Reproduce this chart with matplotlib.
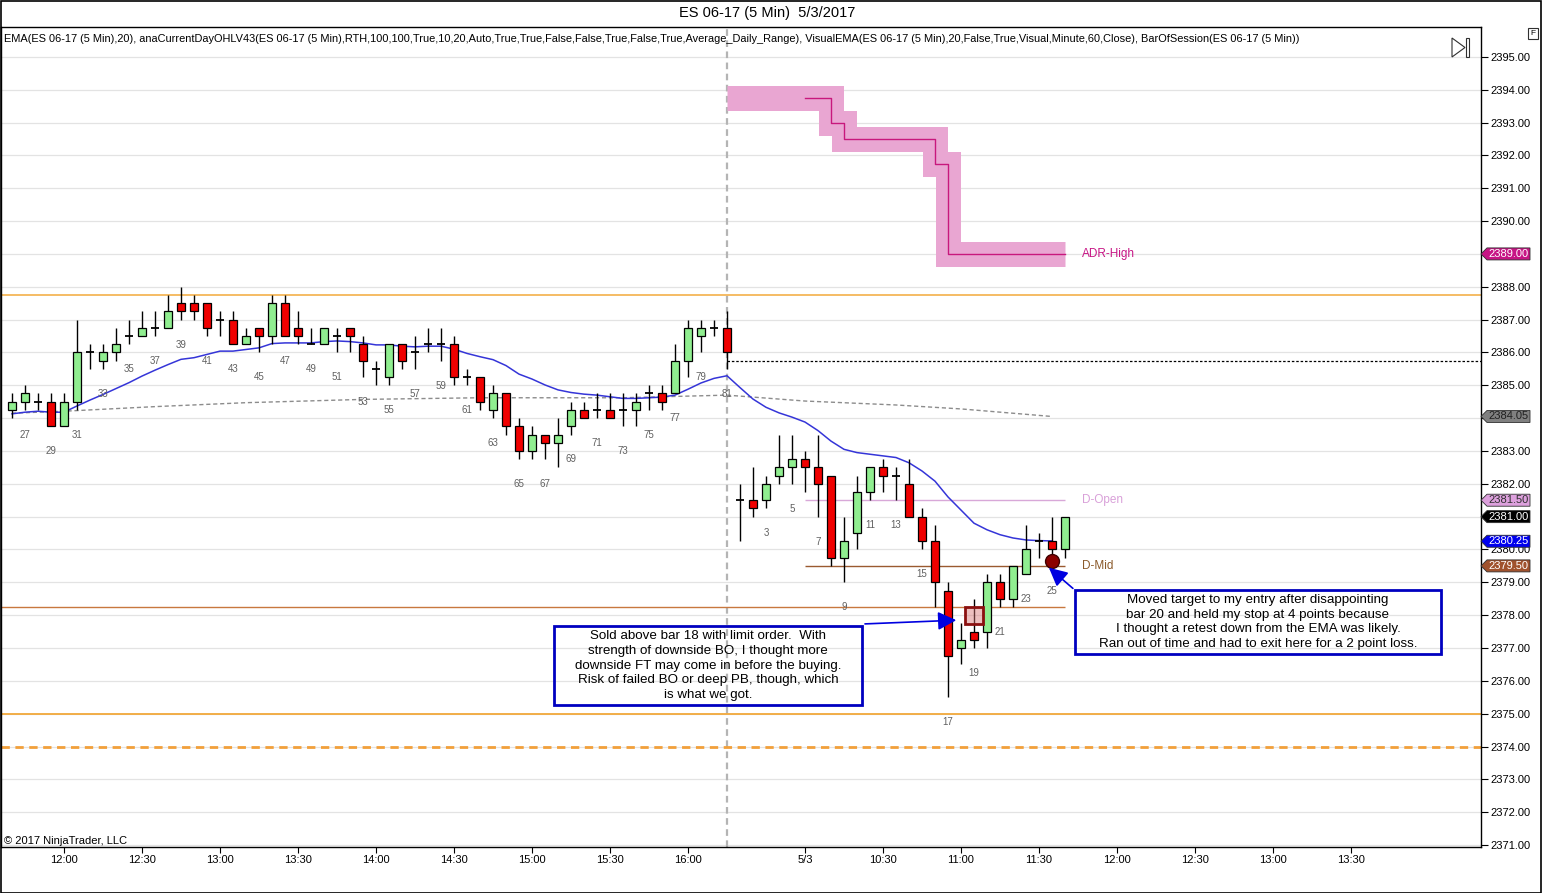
import matplotlib
matplotlib.use("Agg")
import matplotlib.pyplot as plt
from matplotlib.patches import Rectangle, Polygon

plt.rcParams['font.family'] = ['Liberation Sans', 'DejaVu Sans']

# previous session, bars 26..81 (11:40 - 16:15)
prev_bars = list(range(26, 82))
prev_open = [2384.25, 2384.5, 2384.5, 2384.5, 2383.75, 2384.5, 2386.0, 2385.75, 2386.0, 2386.5,
             2386.5, 2386.75, 2386.75, 2387.5, 2387.5, 2387.5, 2387.0, 2387.0, 2386.25, 2386.75,
             2386.5, 2387.5, 2386.75, 2386.25, 2386.25, 2386.5, 2386.75, 2386.25, 2385.5, 2385.25,
             2386.25, 2386.0, 2386.25, 2386.25, 2386.25, 2385.25, 2385.25, 2384.25, 2384.75, 2383.75,
             2383.0, 2383.5, 2383.25, 2383.75, 2384.25, 2384.25, 2384.25, 2384.25, 2384.25, 2384.75,
             2384.75, 2384.75, 2385.75, 2386.5, 2386.75, 2386.75]
prev_high = [2384.75, 2385.0, 2384.75, 2384.75, 2384.75, 2387.0, 2386.25, 2386.25, 2386.75, 2387.0,
             2387.25, 2387.25, 2387.75, 2388.0, 2387.75, 2387.5, 2387.25, 2387.25, 2386.75, 2386.75,
             2387.75, 2387.75, 2387.25, 2386.75, 2386.75, 2386.75, 2386.75, 2386.5, 2385.75, 2386.25,
             2386.25, 2386.5, 2386.75, 2386.75, 2386.5, 2385.5, 2385.25, 2385.0, 2384.75, 2384.0,
             2383.75, 2383.5, 2384.0, 2384.5, 2384.5, 2384.75, 2384.75, 2384.75, 2384.75, 2385.0,
             2385.0, 2386.25, 2387.0, 2387.0, 2387.0, 2387.25]
prev_low = [2384.0, 2384.25, 2384.25, 2383.75, 2383.75, 2384.25, 2385.5, 2385.5, 2385.75, 2386.25,
            2386.5, 2386.5, 2386.75, 2387.0, 2387.0, 2386.5, 2386.5, 2386.25, 2386.25, 2386.0,
            2386.25, 2386.5, 2386.25, 2386.25, 2386.25, 2386.0, 2386.0, 2385.25, 2385.0, 2385.0,
            2385.5, 2385.5, 2386.0, 2385.75, 2385.0, 2385.0, 2384.25, 2384.0, 2383.5, 2382.75,
            2382.75, 2382.75, 2382.5, 2383.5, 2384.0, 2384.0, 2384.0, 2383.75, 2383.75, 2384.25,
            2384.25, 2384.75, 2385.25, 2386.0, 2386.5, 2385.5]
prev_close = [2384.5, 2384.75, 2384.5, 2383.75, 2384.5, 2386.0, 2386.0, 2386.0, 2386.25, 2386.5,
              2386.75, 2386.75, 2387.25, 2387.25, 2387.25, 2386.75, 2387.0, 2386.25, 2386.5, 2386.5,
              2387.5, 2386.5, 2386.5, 2386.25, 2386.75, 2386.5, 2386.5, 2385.75, 2385.5, 2386.25,
              2385.75, 2386.0, 2386.25, 2386.25, 2385.25, 2385.25, 2384.5, 2384.75, 2383.75, 2383.0,
              2383.5, 2383.25, 2383.5, 2384.25, 2384.0, 2384.25, 2384.0, 2384.25, 2384.5, 2384.75,
              2384.5, 2385.75, 2386.75, 2386.75, 2386.75, 2386.0]
prev_ema = [2384.13, 2384.18, 2384.21, 2384.18, 2384.18, 2384.37, 2384.55, 2384.72, 2384.9, 2385.08,
            2385.28, 2385.46, 2385.63, 2385.79, 2385.84, 2385.94, 2386.04, 2386.04, 2386.09, 2386.14,
            2386.27, 2386.29, 2386.29, 2386.29, 2386.33, 2386.35, 2386.33, 2386.29, 2386.23, 2386.23,
            2386.19, 2386.17, 2386.19, 2386.19, 2386.1, 2385.97, 2385.87, 2385.78, 2385.6, 2385.34,
            2385.19, 2385.01, 2384.86, 2384.78, 2384.73, 2384.7, 2384.65, 2384.6, 2384.6, 2384.62,
            2384.64, 2384.7, 2384.88, 2385.07, 2385.21, 2385.29]

# 5/3 session, bars 1..26 (9:35 - 11:40)
new_bars = list(range(1, 27))
new_open = [2381.5, 2381.5, 2381.5, 2382.25, 2382.5, 2382.75, 2382.5, 2382.25, 2379.75, 2380.5,
            2381.75, 2382.5, 2382.25, 2382.0, 2381.0, 2380.25, 2378.75, 2377.0, 2377.5, 2377.5,
            2379.0, 2378.5, 2379.25, 2380.25, 2380.25, 2380.0]
new_high = [2382.0, 2382.5, 2382.25, 2383.5, 2383.5, 2383.0, 2383.5, 2382.25, 2381.0, 2382.25,
            2382.5, 2382.75, 2382.5, 2382.75, 2381.25, 2380.75, 2379.0, 2377.75, 2378.5, 2379.25,
            2379.25, 2379.5, 2380.75, 2380.5, 2381.0, 2381.0]
new_low = [2380.25, 2381.0, 2381.25, 2382.0, 2382.0, 2381.75, 2381.0, 2379.5, 2379.0, 2380.0,
           2381.5, 2381.75, 2381.5, 2381.0, 2380.0, 2378.25, 2375.5, 2376.5, 2377.0, 2377.0,
           2378.25, 2378.25, 2379.25, 2379.75, 2379.75, 2379.75]
new_close = [2381.5, 2381.25, 2382.0, 2382.5, 2382.75, 2382.5, 2382.0, 2379.75, 2380.25, 2381.75,
             2382.5, 2382.25, 2382.25, 2381.0, 2380.25, 2379.0, 2376.75, 2377.25, 2377.25, 2379.0,
             2378.5, 2379.5, 2380.0, 2380.25, 2380.0, 2381.0]
new_ema = [2384.93, 2384.58, 2384.33, 2384.16, 2384.03, 2383.88, 2383.62, 2383.3, 2383.05, 2382.95,
           2382.9, 2382.85, 2382.8, 2382.64, 2382.39, 2382.08, 2381.6, 2381.2, 2380.8, 2380.6,
           2380.45, 2380.35, 2380.29, 2380.27, 2380.26]

# slow (60 min) EMA, read at a few bars
slow_prev_bars = [26, 30, 37, 44, 53, 62, 73, 77, 81]
slow_prev_vals = [2384.15, 2384.21, 2384.35, 2384.47, 2384.57, 2384.62, 2384.62, 2384.66, 2384.7]
slow_new_bars = [1, 6, 13, 18, 25]
slow_new_vals = [2384.67, 2384.52, 2384.4, 2384.28, 2384.05]

# ADR high for the 5/3 session
adr_bars = list(range(6, 27))
adr_vals = [2393.75, 2393.75, 2393.75, 2393.0] + [2392.5] * 7 + [2391.75] + [2389.0] * 9

# levels
y_high = 2387.75
prior_close_line = 2385.75
d_open = 2381.5
d_mid = 2379.5
level_a = 2378.25
level_b = 2375.0
level_c = 2374.0
entry_bar, entry_price = 19, 2378.0
exit_bar, exit_price = 25, 2379.65

tick_prev = [30, 36, 42, 48, 54, 60, 66, 72, 78]
tick_new = [6, 12, 18, 24, 30, 36, 42, 48]
tick_labels = ['12:00', '12:30', '13:00', '13:30', '14:00', '14:30', '15:00', '15:30', '16:00',
               '5/3', '10:30', '11:00', '11:30', '12:00', '12:30', '13:00', '13:30']

tags = [(2389.00, '#C71585', 'white'), (2384.05, '#808080', '#202020'),
        (2381.50, '#DDA0DD', '#303030'), (2381.00, 'black', 'white'),
        (2380.25, '#0000EE', 'white'), (2379.50, '#A0522D', 'white')]


def xp(bar):      # previous session position
    return bar - 26


def xn(bar):      # 5/3 session position
    return 55 + bar


W, H = 1542, 893
fig = plt.figure(figsize=(W / 100, H / 100), dpi=100)
ax = fig.add_axes([1 / W, (H - 847) / H, 1480 / W, 820 / H])
xmin, xmax = -0.846, 113.0
ax.set_xlim(xmin, xmax)
ax.set_ylim(2370.94, 2395.91)

for yv in range(2371, 2396):
    ax.axhline(yv, color='#E3E3E3', lw=0.9, zorder=0)

ax.axvline(xp(81), color='#B4B4B4', lw=1.6, ls=(0, (3, 2)), zorder=1)

# horizontal levels
ax.axhline(y_high, color='#F2A93B', lw=1.1, zorder=1)
ax.axhline(level_b, color='#F2A93B', lw=1.3, zorder=1)
ax.axhline(level_c, color='#F2A03A', lw=2.0, ls=(0, (3, 2)), zorder=1)
ax.hlines(level_a, xmin, xn(26), color='#C8783F', lw=1.0, zorder=1)
ax.hlines(prior_close_line, xp(81), xmax, color='black', lw=0.9, ls=(0, (2, 1.5)), zorder=1)
ax.hlines(d_open, xn(6), xn(26), color='#D8A8D8', lw=1.0, zorder=1)
ax.hlines(d_mid, xn(6), xn(26), color='#9A5A30', lw=1.0, zorder=1)
ax.text(xn(26) + 1.3, 2389.0, 'ADR-High', color='#C71585', fontsize=8.5, va='center')
ax.text(xn(26) + 1.3, d_open, 'D-Open', color='#D9A0D9', fontsize=8.5, va='center')
ax.text(xn(26) + 1.3, d_mid, 'D-Mid', color='#8B5A2B', fontsize=8.5, va='center')

# ADR band + line
band_x = [xn(0)] + [xn(b) for b in adr_bars]
band_y = [adr_vals[0]] + adr_vals
ax.plot(band_x, band_y, drawstyle='steps-pre', color='#E9A6D2', lw=18,
        solid_joinstyle='miter', solid_capstyle='butt', zorder=1)
ax.plot([xn(b) for b in adr_bars], adr_vals, drawstyle='steps-pre', color='#C8187D', lw=1.0, zorder=2)

# slow EMA
slow_x = [xp(b) for b in slow_prev_bars] + [xn(b) for b in slow_new_bars]
ax.plot(slow_x, slow_prev_vals + slow_new_vals, color='#8C8C8C', lw=1.0, ls=(0, (3, 2)), zorder=2)

# EMA 20
ema_x = [xp(b) for b in prev_bars] + [xn(b) for b in new_bars[:len(new_ema)]]
ax.plot(ema_x, prev_ema + new_ema, color='#3535D8', lw=1.1, zorder=2)

# candles
opens = prev_open + new_open
highs = prev_high + new_high
lows = prev_low + new_low
closes = prev_close + new_close
xs = [xp(b) for b in prev_bars] + [xn(b) for b in new_bars]
nums = prev_bars + new_bars
n_prev = len(prev_bars)
bw = 0.62
for i, (x, o, h, l, c, n) in enumerate(zip(xs, opens, highs, lows, closes, nums)):
    ax.vlines(x, l, h, color='black', lw=1.0, zorder=3)
    if o == c:
        ax.hlines(c, x - bw / 2, x + bw / 2, color='black', lw=1.3, zorder=4)
    else:
        col = '#90EE90' if c > o else '#F00000'
        ax.bar(x, abs(c - o), bottom=min(o, c), width=bw, color=col,
               edgecolor='black', linewidth=0.9, zorder=4)
    if n % 2 == 1 and n > 1:
        ly = l - 0.76
        if i >= n_prev and n == exit_bar:
            ly = min(l, exit_price) - 0.9
        ax.text(x, ly, str(n), fontsize=7, color='#606060', ha='center', va='center', zorder=8)

# entry / exit marks
ax.add_patch(Rectangle((xn(entry_bar) - 0.69, entry_price - 0.26), 1.38, 0.52,
                       facecolor=(0.85, 0.45, 0.45, 0.45), edgecolor='#8B1010', lw=2, zorder=5))
ax.plot(xn(exit_bar), exit_price, 'o', ms=10, color='#8B0000', mec='#400000', zorder=5)

# annotations
box1 = (41.7, 2375.26, 23.7, 2.41)
box2 = (81.77, 2376.82, 28.15, 1.94)
text1 = ("Sold above bar 18 with limit order.  With\nstrength of downside BO, I thought more\n"
         "downside FT may come in before the buying.\nRisk of failed BO or deep PB, though, which\n"
         "is what we got.")
text2 = ("Moved target to my entry after disappointing\nbar 20 and held my stop at 4 points because\n"
         "I thought a retest down from the EMA was likely.\nRan out of time and had to exit here for a 2 point loss.")
for (bx, by, bwid, bh), txt in [(box1, text1), (box2, text2)]:
    ax.add_patch(Rectangle((bx, by), bwid, bh, fill=False, edgecolor='#0000C0', lw=2, zorder=6))
    ax.text(bx + bwid / 2, by + bh / 2, txt, ha='center', va='center', fontsize=9.6,
            linespacing=1.3, color='black', zorder=6)

ax.annotate('', xy=(72.85, 2377.85), xytext=(box1[0] + box1[2], box1[1] + box1[3] + 0.06),
            arrowprops=dict(arrowstyle='-|>', color='#0000E0', lw=1.2, mutation_scale=28), zorder=7)
ax.annotate('', xy=(79.6, 2379.5), xytext=(box2[0], box2[1] + box2[3]),
            arrowprops=dict(arrowstyle='-|>', color='#0000E0', lw=1.2, mutation_scale=28), zorder=7)

# axes
for s in ax.spines.values():
    s.set_color('black')
    s.set_linewidth(1)
ax.yaxis.tick_right()
ax.set_yticks(range(2371, 2396))
ax.set_yticklabels([f'{v:.2f}' for v in range(2371, 2396)])
ax.tick_params(axis='y', direction='out', length=5, labelsize=8, pad=2, colors='black')
ax.set_xticks([xp(b) for b in tick_prev] + [xn(b) for b in tick_new])
ax.set_xticklabels(tick_labels)
ax.tick_params(axis='x', direction='out', length=4, labelsize=8, pad=2)

# price tags on the axis
px = 1 / 13.0
hh = 6 / 32.83
for price, face, tcol in tags:
    poly = Polygon([(xmax, price), (xmax + 6 * px, price + hh), (xmax + 49 * px, price + hh),
                    (xmax + 49 * px, price - hh), (xmax + 6 * px, price - hh)],
                   closed=True, facecolor=face, edgecolor='#303030', lw=0.6, clip_on=False, zorder=10)
    ax.add_patch(poly)
    ax.text(xmax + 27.5 * px, price, f'{price:.2f}', color=tcol, fontsize=8, ha='center',
            va='center', clip_on=False, zorder=11)

# header texts
fig.text(767 / W, 1 - 13 / H, 'ES 06-17 (5 Min)  5/3/2017', ha='center', va='center', fontsize=10.5)
fig.text(4 / W, 1 - 39 / H,
         'EMA(ES 06-17 (5 Min),20), anaCurrentDayOHLV43(ES 06-17 (5 Min),RTH,100,100,True,10,20,Auto,'
         'True,True,False,False,True,False,True,Average_Daily_Range), VisualEMA(ES 06-17 (5 Min),20,False,'
         'True,Visual,Minute,60,Close), BarOfSession(ES 06-17 (5 Min))',
         ha='left', va='center', fontsize=7.9)
fig.text(4 / W, 1 - 841 / H, '\u00a9 2017 NinjaTrader, LLC', ha='left', va='center', fontsize=8)

# small chart icons
fig.add_artist(Polygon([(1452 / W, 1 - 38 / H), (1452 / W, 1 - 57 / H), (1465 / W, 1 - 47.5 / H)],
                       closed=True, fill=False, edgecolor='#303030', lw=0.8, transform=fig.transFigure))
fig.add_artist(Rectangle((1466 / W, 1 - 57 / H), 3 / W, 19 / H, fill=False, edgecolor='#303030',
                         lw=0.8, transform=fig.transFigure))
fig.add_artist(Rectangle((1528 / W, 1 - 39 / H), 10 / W, 11 / H, fill=False, edgecolor='#303030',
                         lw=0.8, transform=fig.transFigure))
fig.text(1533 / W, 1 - 33.5 / H, 'F', fontsize=6, ha='center', va='center')
fig.add_artist(Rectangle((0.5 / W, 0.5 / H), (W - 1.5) / W, (H - 1.5) / H, fill=False,
                         edgecolor='black', lw=1.2, transform=fig.transFigure))

fig.savefig('out.png', dpi=100)
